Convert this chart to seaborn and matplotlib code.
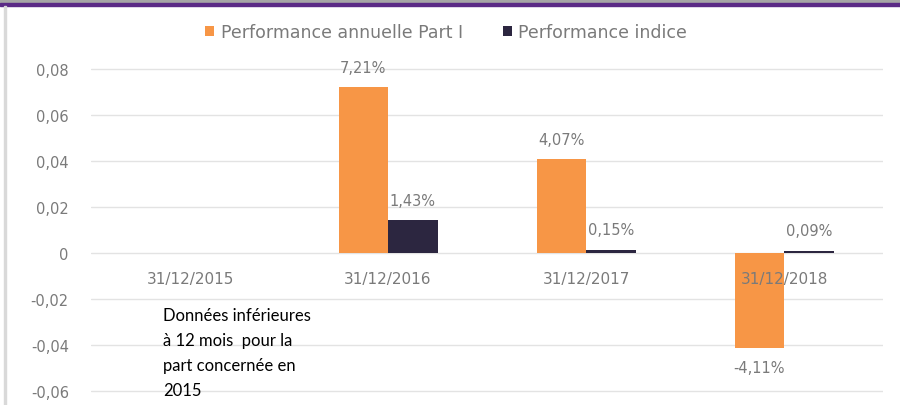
import numpy as np
import pandas as pd
import matplotlib
matplotlib.use("Agg")
import matplotlib.pyplot as plt
from matplotlib.patches import Rectangle
import seaborn as sns

# ---- data ----
categories = ["31/12/2015", "31/12/2016", "31/12/2017", "31/12/2018"]
series_names = ["Performance annuelle Part I", "Performance indice"]
part_i = [np.nan, 0.0721, 0.0407, -0.0411]
indice = [np.nan, 0.0143, 0.0015, 0.0009]
yticks = [-0.06, -0.04, -0.02, 0.0, 0.02, 0.04, 0.06, 0.08]
ytick_labels = ["-0,06", "-0,04", "-0,02", "0", "0,02", "0,04", "0,06", "0,08"]
note = "Données inférieures\nà 12 mois  pour la\npart concernée en\n2015"

colors = {series_names[0]: "#F79646", series_names[1]: "#2C2640"}
text_gray = "#7a7a7a"

df = pd.DataFrame({
    "date": categories * 2,
    "serie": [series_names[0]] * 4 + [series_names[1]] * 4,
    "valeur": part_i + indice,
}).dropna()

sns.set_theme(style="whitegrid")
plt.rcParams["font.family"] = ["DejaVu Sans"]

fig = plt.figure(figsize=(9, 4.06), dpi=100)
ax = fig.add_axes([91 / 900, 0.02315, 792 / 900, 0.8328])

sns.barplot(data=df, x="date", y="valeur", hue="serie", order=categories,
            hue_order=series_names, palette=colors, width=0.5,
            errorbar=None, saturation=1, linewidth=0, ax=ax)

ax.set_xlim(-0.5, 3.5)
ax.set_ylim(-0.062, 0.085)
ax.set_yticks(yticks)
ax.set_yticklabels(ytick_labels)
ax.set_xlabel("")
ax.set_ylabel("")
ax.grid(axis="x", visible=False)
ax.grid(axis="y", color="#e3e3e3", linewidth=1)
for s in ax.spines.values():
    s.set_visible(False)
ax.spines["bottom"].set_position(("data", 0))
ax.xaxis.set_zorder(3)
ax.tick_params(axis="x", length=0, pad=13, labelsize=11, labelcolor=text_gray)
ax.tick_params(axis="y", length=0, pad=16, labelsize=10.5, labelcolor=text_gray)

for cont in ax.containers:
    labels = [f"{v * 100:.2f}%".replace(".", ",") for v in cont.datavalues]
    ax.bar_label(cont, labels=labels, padding=9, fontsize=10.5, color=text_gray)

handles, labels = ax.get_legend_handles_labels()
ax.get_legend().remove()
fig.legend(handles, labels, loc="center", bbox_to_anchor=(446 / 900, 1 - 33 / 406),
           ncol=2, frameon=False, fontsize=12.5, handlelength=0.55, handleheight=0.55,
           handletextpad=0.35, columnspacing=2.3, labelcolor=text_gray)

fig.text(163 / 900, 1 - 308 / 406, note, ha="left", va="top", fontsize=12,
         family=["Lato", "DejaVu Sans"], linespacing=1.7, color="black")

# frame decorations
fig.patches.append(Rectangle((0, 1 - 4 / 406), 1, 4 / 406, transform=fig.transFigure,
                             color="#a6a6a6", zorder=-1))
fig.patches.append(Rectangle((0, 1 - 7 / 406), 1, 3 / 406, transform=fig.transFigure,
                             color="#5b2a86", zorder=-1))
fig.patches.append(Rectangle((4 / 900, 0), 2 / 900, 1 - 7 / 406, transform=fig.transFigure,
                             color="#d9d9d9", zorder=-1))

fig.savefig("out.png", dpi=100)
